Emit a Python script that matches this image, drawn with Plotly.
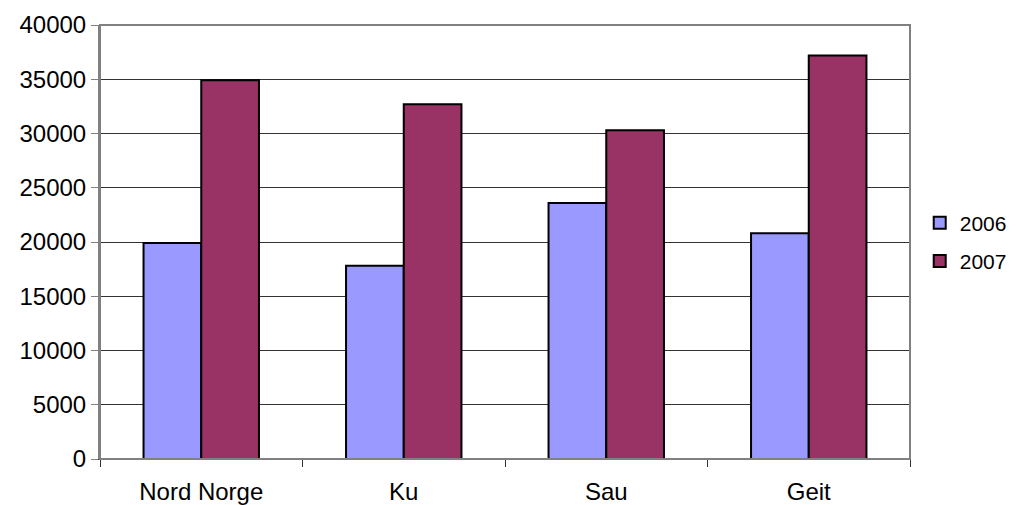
import plotly.graph_objects as go

categories = ["Nord Norge", "Ku", "Sau", "Geit"]
series_names = ["2006", "2007"]
values_2006 = [19900, 17800, 23600, 20800]
values_2007 = [34900, 32700, 30300, 37200]
y_ticks = [0, 5000, 10000, 15000, 20000, 25000, 30000, 35000, 40000]
y_tick_labels = [str(v) for v in y_ticks]

colors = ["#9999FF", "#993366"]

fig = go.Figure()
for name, vals, col in zip(series_names, [values_2006, values_2007], colors):
    fig.add_trace(go.Bar(
        x=categories, y=vals, name=name, legendgroup=name,
        marker=dict(color=col, line=dict(color="black", width=2)),
    ))

# page body has an 8px margin, so the figure is sized/offset to compensate
fig.update_layout(
    width=1008, height=497,
    margin=dict(l=92, r=106, t=17, b=46, autoexpand=False),
    paper_bgcolor="white", plot_bgcolor="white",
    barmode="group", bargap=0.43, bargroupgap=0,
    font=dict(family="Arial, Liberation Sans, sans-serif", size=24, color="black"),
    legend=dict(x=1.012, y=0.5, xanchor="left", yanchor="middle",
                font=dict(size=21), itemwidth=30, traceorder="grouped",
                tracegroupgap=8, bgcolor="rgba(0,0,0,0)"),
    showlegend=True,
)
fig.update_xaxes(
    type="category", tickson="boundaries", ticks="outside", ticklen=7,
    tickcolor="#333", showline=True, linecolor="#333", linewidth=1,
    mirror=False, showgrid=False, automargin=False, ticklabelstandoff=11,
)
fig.update_yaxes(
    range=[0, 40000], tickvals=y_ticks, ticktext=y_tick_labels,
    ticks="outside", ticklen=7, automargin=False,
    tickcolor="#808080", showline=True, linecolor="#808080", linewidth=2,
    showgrid=True, gridcolor="#333", gridwidth=1, zeroline=False,
)
# plot-area border (top & right)
fig.add_shape(type="rect", xref="paper", yref="paper", x0=0, x1=1, y0=0, y1=1,
              line=dict(color="#808080", width=2), layer="above")

fig.write_html("out.html")
